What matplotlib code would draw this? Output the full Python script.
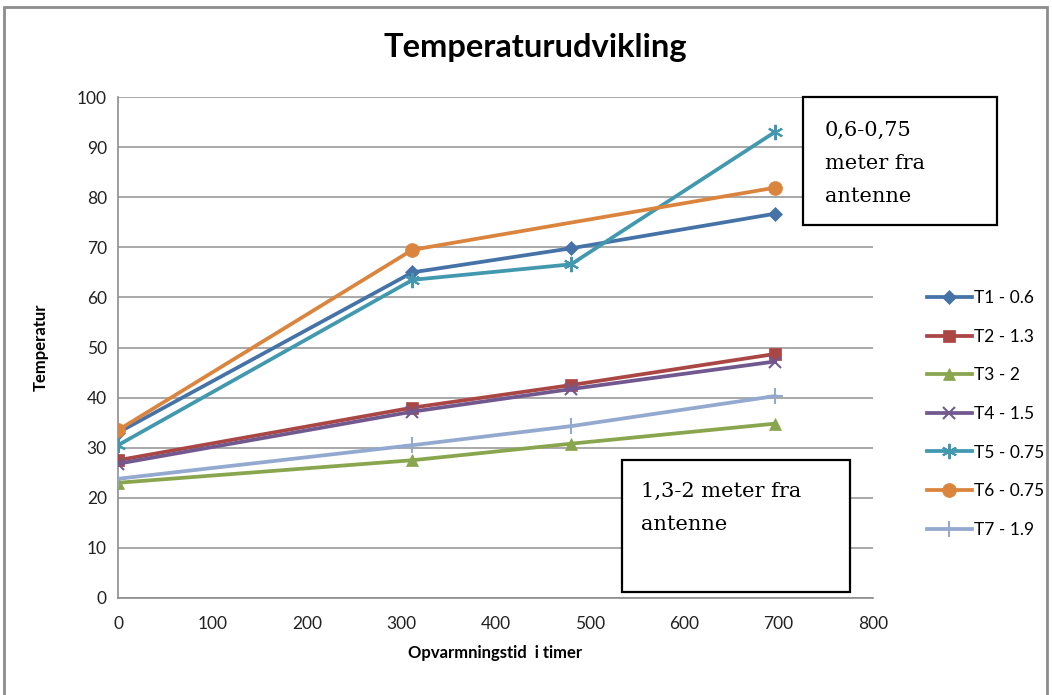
import matplotlib.pyplot as plt
from matplotlib.patches import Rectangle

# Opvarmningstid (timer) og temperaturer for hver sensor
hours = [0, 312, 480, 696]
hours_t6 = [0, 312, 696]

t1 = [33.0, 65.0, 69.8, 76.7]
t2 = [27.5, 38.0, 42.5, 48.7]
t3 = [23.0, 27.5, 30.8, 34.8]
t4 = [26.8, 37.2, 41.7, 47.2]
t5 = [30.5, 63.5, 66.6, 93.0]
t6 = [33.5, 69.5, 81.9]
t7 = [23.8, 30.5, 34.3, 40.3]

labels = ['T1 - 0.6', 'T2 - 1.3', 'T3 - 2', 'T4 - 1.5',
          'T5 - 0.75', 'T6 - 0.75', 'T7 - 1.9']
colors = ['#4572A7', '#AA4643', '#89A54E', '#71588F',
          '#4198AF', '#DB843D', '#93A9CF']
markers = ['D', 's', '^', 'x', (6, 2, 0), 'o', '+']
sizes = [7.5, 8.5, 9, 9, 11, 10, 12]

series = [(hours, t1), (hours, t2), (hours, t3), (hours, t4),
          (hours, t5), (hours_t6, t6), (hours, t7)]

plt.rcParams['font.family'] = ['Lato', 'DejaVu Sans']

fig = plt.figure(figsize=(10.52, 6.95), dpi=100)
ax = fig.add_axes([118 / 1052, 1 - 598 / 695, (873 - 118) / 1052, (598 - 97) / 695])

handles = []
for (x, y), lab, c, m, ms in zip(series, labels, colors, markers, sizes):
    thin = m in ('x', '+') or isinstance(m, tuple)
    h, = ax.plot(x, y, color=c, lw=2.7, marker=m, markersize=ms,
                 markeredgewidth=1.5 if thin else 0.5,
                 markeredgecolor=c, label=lab, zorder=3)
    handles.append(h)

ax.set_xlim(0, 800)
ax.set_ylim(0, 100)
ax.set_xticks(range(0, 801, 100))
ax.set_yticks(range(0, 101, 10))
ax.yaxis.grid(True, color='#9a9a9a', lw=1.2)
ax.set_axisbelow(True)
for s in ['top', 'right']:
    ax.spines[s].set_visible(False)
for s in ['left', 'bottom']:
    ax.spines[s].set_color('#8c8c8c')
    ax.spines[s].set_linewidth(1.2)
ax.tick_params(length=0, labelsize=12.5, colors='#222222', pad=13)
ax.tick_params(axis='y', pad=8)

ax.set_xlabel('Opvarmningstid  i timer', fontsize=12, fontweight='bold', labelpad=9)
ax.set_ylabel('Temperatur', fontsize=12, fontweight='bold', labelpad=20)
fig.text(535 / 1052, 1 - 48 / 695, 'Temperaturudvikling', ha='center', va='center',
         fontsize=23.5, fontweight='bold')

fig.legend(handles=handles, loc='center left', bbox_to_anchor=(0.866, 1 - 414 / 695),
           frameon=False, fontsize=12.5, handlelength=2.6, labelspacing=1.3,
           handletextpad=0.15)

# Tekstbokse med afstand fra antennen
def text_box(x0, y0, x1, y1, txt, tx, ty):
    fig.patches.append(Rectangle((x0 / 1052, 1 - y1 / 695), (x1 - x0) / 1052,
                                 (y1 - y0) / 695, transform=fig.transFigure,
                                 facecolor='white', edgecolor='black', lw=1.6, zorder=5))
    fig.text(tx / 1052, 1 - ty / 695, txt, ha='left', va='top', fontsize=15,
             family='DejaVu Serif', linespacing=1.95, zorder=6)

text_box(803, 97, 997, 225, '0,6-0,75\nmeter fra\nantenne', 825, 121)
text_box(622, 460, 850, 592, '1,3-2 meter fra\nantenne', 641, 482)

# ramme rundt om diagrammet
fig.patches.append(Rectangle((4 / 1052, -0.02), 1043 / 1052, 1 - 7 / 695 + 0.02,
                             transform=fig.transFigure, facecolor='none',
                             edgecolor='#8c8c8c', lw=2))

fig.savefig('out.png', dpi=100)
